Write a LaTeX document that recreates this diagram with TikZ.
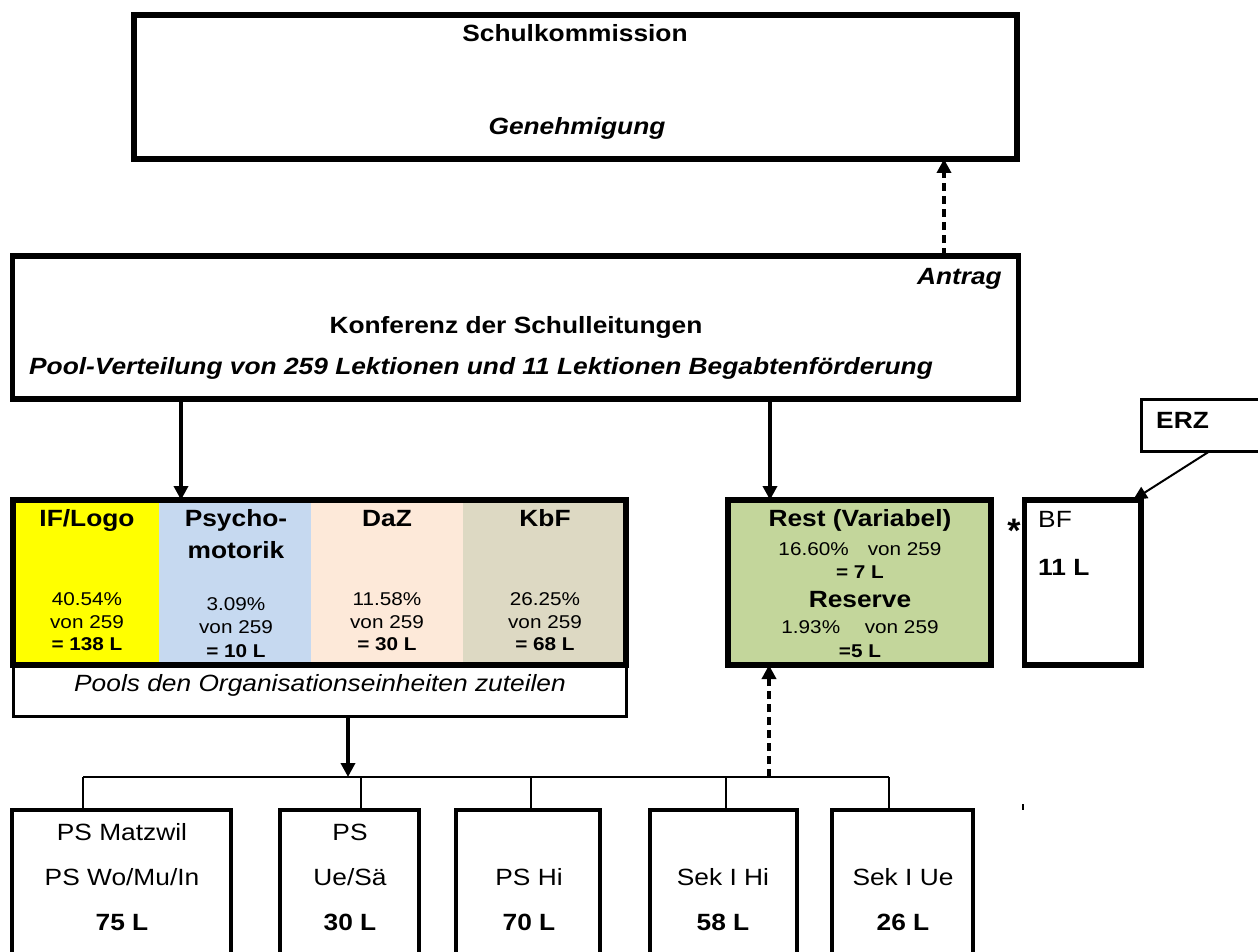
\documentclass[tikz,border=0pt]{standalone}
\usepackage{fontspec}
\usepackage{graphicx}
\setmainfont{Liberation Sans}
\usetikzlibrary{arrows.meta}
\newcommand{\sx}[1]{\scalebox{1.12}[1]{#1}}
\definecolor{cyel}{HTML}{FFFF00}
\definecolor{cblue}{HTML}{C6D9F0}
\definecolor{cpeach}{HTML}{FDE9D9}
\definecolor{ctan}{HTML}{DDD9C3}
\definecolor{cgreen}{HTML}{C3D69B}
\begin{document}
\begin{tikzpicture}[x=1pt,y=-1pt,
  box/.style={draw, rectangle, inner sep=0pt, outer sep=0pt, line width=5.5pt},
  tbox/.style={draw, rectangle, inner sep=0pt, outer sep=0pt, line width=3pt},
  bbox/.style={draw, rectangle, inner sep=0pt, outer sep=0pt, line width=4pt, minimum height=170pt},
  fb/.style={inner sep=0pt, anchor=base, font=\fontsize{23.5}{27}\selectfont\bfseries},
  fbi/.style={inner sep=0pt, anchor=base, font=\fontsize{23.5}{27}\selectfont\bfseries\itshape},
  fr/.style={inner sep=0pt, anchor=base, font=\fontsize{23.5}{27}\selectfont},
  fi/.style={inner sep=0pt, anchor=base, font=\fontsize{23.5}{27}\selectfont\itshape},
  sr/.style={inner sep=0pt, anchor=base, font=\fontsize{18.5}{21}\selectfont},
  sb/.style={inner sep=0pt, anchor=base, font=\fontsize{18.5}{21}\selectfont\bfseries},
  arr/.style={line width=3.5pt, -{Triangle[length=14pt,width=14pt]}},
  darr/.style={arr, dash pattern=on 8pt off 5pt},
  thinline/.style={line width=1.5pt}
]
\useasboundingbox[fill=white] (0,0) rectangle (1258,952);

% top boxes
\node[box, minimum width=883pt, minimum height=144pt] (sk) at (575.5,87) {};
\node[box, minimum width=1006pt, minimum height=143pt] (konf) at (515.5,327.5) {};

% pool columns
\fill[cyel] (15.75,502.75) rectangle (159,662.25);
\fill[cblue] (159,502.75) rectangle (311,662.25);
\fill[cpeach] (311,502.75) rectangle (463,662.25);
\fill[ctan] (463,502.75) rectangle (623.25,662.25);
\node[tbox, minimum width=613pt, minimum height=51.5pt] (ptb) at (319.5,690.75) {};
\node[box, minimum width=613pt, minimum height=165pt] (pool) at (319.5,582.5) {};

\node[box, fill=cgreen, minimum width=263pt, minimum height=165pt] (rest) at (859.5,582.5) {};
\node[box, minimum width=116.5pt, minimum height=165pt] (bf) at (1082.75,582.5) {};
\node[tbox, minimum width=159pt, minimum height=52pt] (erz) at (1220.5,425) {};

% bottom boxes
\node[bbox, minimum width=219pt] (b1) at (121.5,895) {};
\node[bbox, minimum width=139pt] (b2) at (349.5,895) {};
\node[bbox, minimum width=144pt] (b3) at (528,895) {};
\node[bbox, minimum width=147pt] (b4) at (723.5,895) {};
\node[bbox, minimum width=141pt] (b5) at (902.5,895) {};

% connector helper coordinates
\coordinate (xa) at (181,0);
\coordinate (xb) at (770,0);
\coordinate (xc) at (944,0);
\coordinate (xd) at (348,0);
\coordinate (xe) at (769,0);
\coordinate (t2) at (361,0);
\coordinate (t3) at (531,0);
\coordinate (t4) at (726,0);
\coordinate (barL) at (83,777);
\coordinate (barR) at (889,777);
\coordinate (ea) at (1210,0);
\coordinate (eb) at (1133,0);

% connectors
\draw[darr] (konf.north -| xc) -- (sk.south -| xc);
\draw[arr] (konf.south -| xa) -- (pool.north -| xa);
\draw[arr] (konf.south -| xb) -- (rest.north -| xb);
\draw[arr] (ptb.south -| xd) -- (barL -| xd);
\draw[thinline] (barL) -- (barR);
\draw[darr] (barL -| xe) -- (rest.south -| xe);
\draw[thinline] (barL) -- (b1.north -| barL);
\draw[thinline] (barL -| t2) -- (b2.north -| t2);
\draw[thinline] (barL -| t3) -- (b3.north -| t3);
\draw[thinline] (barL -| t4) -- (b4.north -| t4);
\draw[thinline] (barR) -- (b5.north -| barR);
\draw[line width=2pt, -{Triangle[length=14pt,width=13pt]}] (erz.south -| ea) -- (bf.north -| eb);
\draw[line width=2pt] (1023,804) -- (1023,810);

% texts
\node[fb] (tsk) at (575,41.5) {\sx{Schulkommission}};
\node[fbi] (tgen) at (577,134.5) {\sx{Genehmigung}};
\node[fbi, anchor=base east] (tant) at (1002,284.5) {\sx{Antrag}};
\node[fb] (tkonf) at (516,333.5) {\sx{Konferenz der Schulleitungen}};
\node[fbi] (tpv) at (481,374.5) {\sx{Pool-Verteilung von 259 Lektionen und 11 Lektionen Begabtenförderung}};

\node[fb] (tif) at (87,526.5) {\sx{IF/Logo}};
\node[fb] (tpsyA) at (236,526.5) {\sx{Psycho-}};
\node[fb] (tpsyB) at (236,558) {\sx{motorik}};
\node[fb] (tdaz) at (387,526.5) {\sx{DaZ}};
\node[fb] (tkbf) at (545,526.5) {\sx{KbF}};

\node[sr] (pifA) at (87,605) {\sx{40.54\%}};
\node[sr] (pifB) at (87,628) {\sx{von 259}};
\node[sb] (pifC) at (87,650) {\sx{= 138 L}};
\node[sr] (ppsA) at (236,610) {\sx{3.09\%}};
\node[sr] (ppsB) at (236,633) {\sx{von 259}};
\node[sb] (ppsC) at (236,657) {\sx{= 10 L}};
\node[sr] (pdaA) at (387,605) {\sx{11.58\%}};
\node[sr] (pdaB) at (387,628) {\sx{von 259}};
\node[sb] (pdaC) at (387,650) {\sx{= 30 L}};
\node[sr] (pkbA) at (545,605) {\sx{26.25\%}};
\node[sr] (pkbB) at (545,628) {\sx{von 259}};
\node[sb] (pkbC) at (545,650) {\sx{= 68 L}};

\node[fi] (tpools) at (320,691.5) {\sx{Pools den Organisationseinheiten zuteilen}};

\node[fb] (trest) at (860,526) {\sx{Rest (Variabel)}};
\node[sr] (trestA) at (860,555) {\sx{16.60\%\hspace{17pt}von 259}};
\node[sb] (trestB) at (860,578) {\sx{= 7 L}};
\node[fb] (tres) at (860,607) {\sx{Reserve}};
\node[sr] (tresA) at (860,633) {\sx{1.93\%\hspace{22pt}von 259}};
\node[sb] (tresB) at (860,657) {\sx{=5 L}};

\node[inner sep=0pt, anchor=base, font=\fontsize{34}{38}\selectfont\bfseries] (tstar) at (1014,542) {*};
\node[fr, anchor=base west] (tbf) at (1038,527) {\sx{BF}};
\node[fb, anchor=base west] (tbfl) at (1038,575) {\sx{11 L}};
\node[fb, anchor=base west] (terz) at (1156,428) {\sx{ERZ}};

\node[fr] (b1a) at (122,840) {\sx{PS Matzwil}};
\node[fr] (b1b) at (122,885) {\sx{PS Wo/Mu/In}};
\node[fb] (b1c) at (122,930) {\sx{75 L}};
\node[fr] (b2a) at (350,840) {\sx{PS}};
\node[fr] (b2b) at (350,885) {\sx{Ue/Sä}};
\node[fb] (b2c) at (350,930) {\sx{30 L}};
\node[fr] (b3b) at (529,885) {\sx{PS Hi}};
\node[fb] (b3c) at (529,930) {\sx{70 L}};
\node[fr] (b4b) at (723,885) {\sx{Sek I Hi}};
\node[fb] (b4c) at (723,930) {\sx{58 L}};
\node[fr] (b5b) at (903,885) {\sx{Sek I Ue}};
\node[fb] (b5c) at (903,930) {\sx{26 L}};
\end{tikzpicture}
\end{document}
